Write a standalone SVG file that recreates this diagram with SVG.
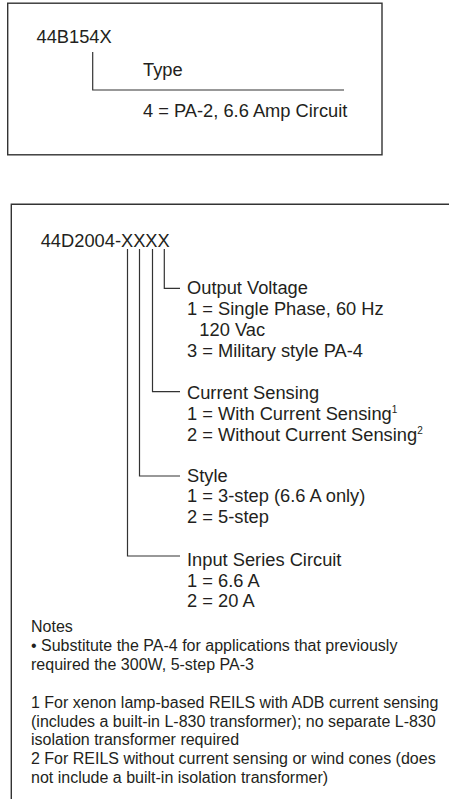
<svg xmlns="http://www.w3.org/2000/svg" width="449" height="799" viewBox="0 0 449 799">
<style>
.t{font-family:"Liberation Sans",Arial,sans-serif;font-size:18.3px;fill:#231f20}
.n{font-family:"Liberation Sans",Arial,sans-serif;font-size:16px;fill:#231f20}
.sup{font-size:10px}
.box{fill:none;stroke:#333;stroke-width:1.4}
.ln{fill:none;stroke:#333;stroke-width:1.2}
</style>
<rect width="449" height="799" fill="#fff"/>
<g id="box1">
<rect class="box" x="7.7" y="3.2" width="374.3" height="151.6"/>
<text class="t" x="36.5" y="43">44B154X</text>
<text class="t" x="143" y="76">Type</text>
<text class="t" x="143" y="117">4 = PA-2, 6.6 Amp Circuit</text>
</g>
<g id="box2">
<path class="box" d="M11.3 799 V204.3 H449"/>
<text class="t" x="40.7" y="246.5">44D2004-XXXX</text>
</g>
<g id="connectors">
<path class="ln" d="M92.7 52 V90 H344"/>
<path class="ln" d="M164.3 249 V288.3 H180"/>
<path class="ln" d="M152.5 249 V391.7 H180"/>
<path class="ln" d="M139.5 249 V476 H180"/>
<path class="ln" d="M127.5 249 V556 H180"/>
</g>
<g id="output-voltage">
<text class="t" x="187" y="294">Output Voltage</text>
<text class="t" x="187" y="315">1 = Single Phase, 60 Hz</text>
<text class="t" x="199.3" y="336">120 Vac</text>
<text class="t" x="187" y="357">3 = Military style PA-4</text>
</g>
<g id="current-sensing">
<text class="t" x="187" y="399">Current Sensing</text>
<text class="t" x="187" y="420">1 = With Current Sensing<tspan class="sup" dy="-7">1</tspan></text>
<text class="t" x="187" y="440.5">2 = Without Current Sensing<tspan class="sup" dy="-7">2</tspan></text>
</g>
<g id="style">
<text class="t" x="187" y="482">Style</text>
<text class="t" x="187" y="502">1 = 3-step (6.6 A only)</text>
<text class="t" x="187" y="522.7">2 = 5-step</text>
</g>
<g id="input-series">
<text class="t" x="187" y="566">Input Series Circuit</text>
<text class="t" x="187" y="586.7">1 = 6.6 A</text>
<text class="t" x="187" y="606.7">2 = 20 A</text>
</g>
<g id="notes">
<text class="n" x="31" y="631.5">Notes</text>
<text class="n" x="31" y="650.5">• Substitute the PA-4 for applications that previously</text>
<text class="n" x="31" y="669.5">required the 300W, 5-step PA-3</text>
<text class="n" x="31" y="707.7">1 For xenon lamp-based REILS with ADB current sensing</text>
<text class="n" x="31" y="726.5">(includes a built-in L-830 transformer); no separate L-830</text>
<text class="n" x="31" y="745.3">isolation transformer required</text>
<text class="n" x="31" y="764.1">2 For REILS without current sensing or wind cones (does</text>
<text class="n" x="31" y="782.9">not include a built-in isolation transformer)</text>
</g>
</svg>
